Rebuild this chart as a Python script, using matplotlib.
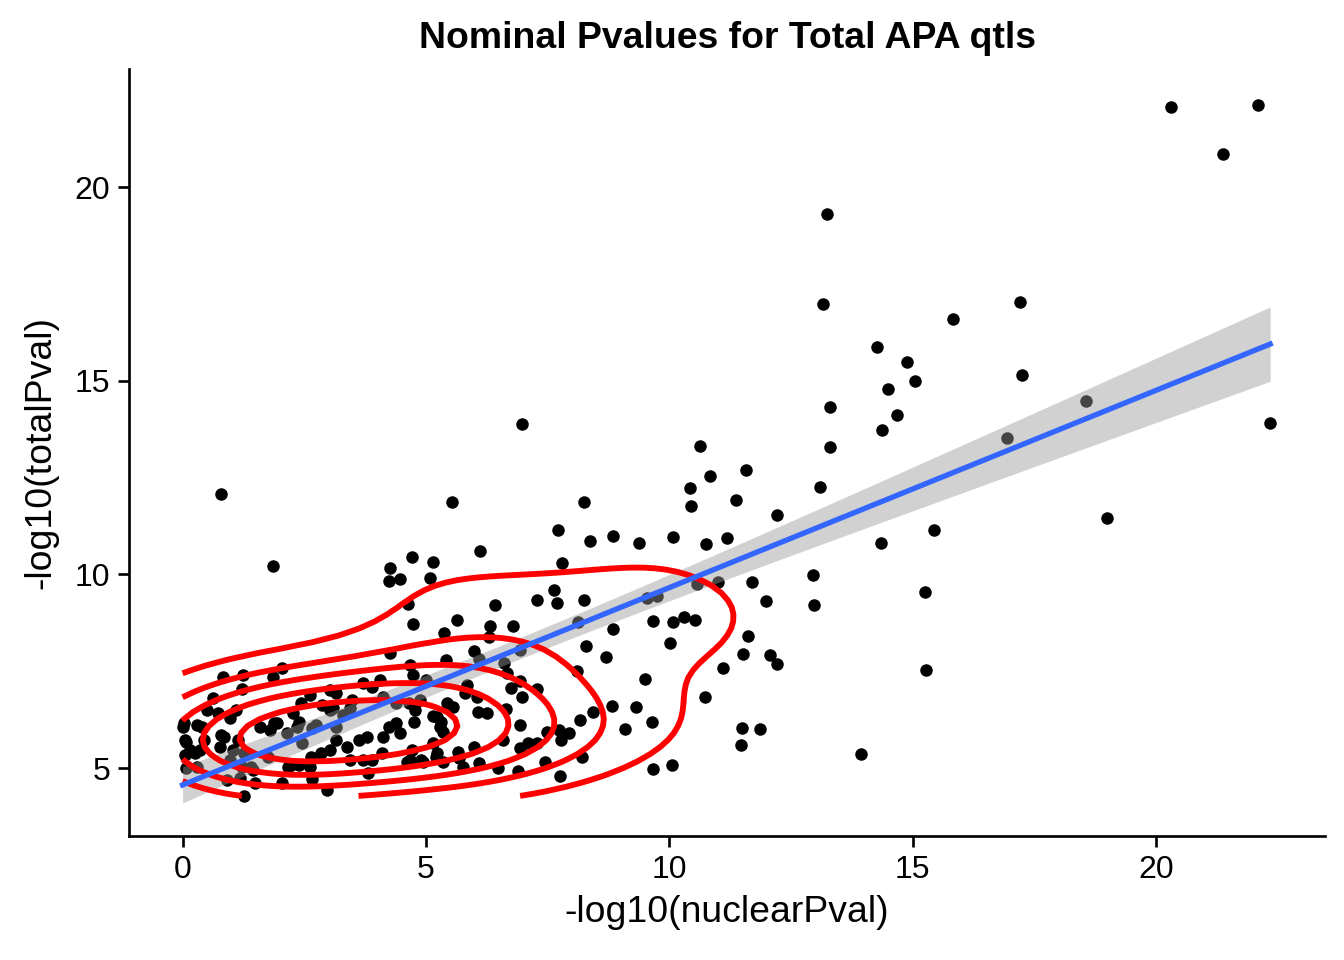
import numpy as np
import matplotlib
matplotlib.use("Agg")
import matplotlib.pyplot as plt

plt.rcParams['font.family'] = ['Liberation Sans', 'DejaVu Sans']

# -log10 p-values (nuclear vs total)
nuclear = [
    20.31, 22.09, 21.38, 22.34, 13.24, 13.16, 17.21, 15.83, 14.27, 14.89,
    15.05, 14.50, 13.29, 14.68, 14.37, 13.29, 17.25, 18.56, 16.94, 13.10,
    12.22, 14.35, 15.44, 18.99, 12.94, 12.96, 15.24, 15.28, 13.94, 11.99,
    11.70, 10.99, 11.62, 11.52, 12.07, 12.22, 11.11, 10.74, 11.50, 11.87,
    11.48, 11.36, 11.19, 10.76, 10.62, 10.84, 11.58, 10.43, 10.45, 6.98,
    10.57, 10.08, 9.38, 8.85, 8.36, 7.72, 8.25, 5.54, 0.78, 1.85,
    6.10, 4.72, 5.15, 4.27, 4.23, 4.46, 5.09, 7.80, 7.62, 7.70,
    8.25, 7.29, 6.41, 4.64, 9.53, 9.75, 8.13, 8.85, 9.67, 10.08,
    10.29, 10.53, 5.63, 4.74, 6.32, 6.78, 6.30, 5.38, 10.02, 8.28,
    8.69, 5.98, 6.08, 6.61, 6.94, 5.42, 4.68, 4.74, 4.99, 6.67,
    8.11, 9.49, 5.85, 5.81, 6.04, 6.74, 6.94, 7.29, 6.98, 5.44,
    5.56, 4.78, 5.15, 5.30, 5.34, 6.26, 6.06, 6.65, 8.44, 8.17,
    8.83, 9.32, 9.65, 9.08, 6.94, 7.10, 7.27, 7.49, 7.74, 7.93,
    7.78, 6.59, 5.98, 5.15, 5.65, 5.20, 5.67, 4.72, 4.89, 4.68,
    5.77, 6.08, 6.47, 6.90, 7.45, 8.21, 7.76, 9.67, 10.06, 6.94,
    4.27, 0.84, 1.25, 1.23, 1.85, 2.05, 0.62, 0.51, 1.09, 0.72,
    0.97, 0.00, 0.29, 0.39, 0.08, 0.04, 0.25, 0.35, 0.08, 0.29,
    0.76, 0.86, 1.13, 1.03, 1.27, 0.97, 1.23, 1.44, 0.92, 1.17,
    1.48, 1.27, 2.05, 2.16, 2.40, 2.61, 2.65, 2.96, 2.46, 2.85,
    3.02, 3.16, 3.37, 3.63, 3.78, 3.43, 3.70, 3.90, 4.09, 4.11,
    4.25, 4.39, 4.46, 4.76, 5.22, 5.28, 5.22, 4.93, 4.60, 5.34,
    4.87, 4.66, 4.39, 4.11, 3.90, 3.70, 4.05, 3.47, 3.16, 3.02,
    2.87, 2.61, 2.44, 2.75, 2.40, 2.26, 1.93, 1.79, 2.14, 3.29,
    3.02, 3.43, 2.65, 3.16, 0.02, 0.06, 0.16, 0.43, 0.78, 1.60,
    1.87, 2.36, 3.08, 3.80, 1.75, 1.40, 2.22, 2.63,
]
total = [
    22.08, 22.13, 20.87, 13.91, 19.32, 16.99, 17.04, 16.60, 15.88, 15.49,
    15.00, 14.79, 14.33, 14.12, 13.73, 13.29, 15.16, 14.48, 13.53, 12.26,
    11.54, 10.81, 11.15, 11.46, 9.99, 9.21, 9.55, 7.53, 5.36, 9.32,
    9.81, 9.81, 8.41, 7.95, 7.92, 7.69, 7.58, 6.83, 6.03, 6.01,
    5.59, 11.93, 10.94, 10.79, 13.32, 12.55, 12.70, 12.24, 11.77, 13.89,
    9.75, 10.97, 10.81, 11.00, 10.87, 11.15, 11.87, 11.87, 12.08, 10.22,
    10.61, 10.45, 10.32, 10.17, 9.83, 9.88, 9.91, 10.30, 9.60, 9.26,
    9.34, 9.34, 9.21, 9.24, 9.39, 9.44, 8.77, 8.59, 8.80, 8.77,
    8.90, 8.82, 8.82, 8.72, 8.67, 8.67, 8.39, 8.49, 8.23, 8.15,
    7.87, 8.02, 7.82, 7.71, 8.05, 7.79, 7.66, 7.40, 7.27, 7.45,
    7.51, 7.30, 7.14, 6.94, 6.83, 7.07, 7.25, 7.04, 6.83, 6.68,
    6.58, 6.50, 6.34, 6.19, 5.93, 6.42, 6.45, 6.52, 6.45, 6.24,
    6.60, 6.58, 6.19, 6.01, 6.11, 5.65, 5.65, 5.93, 5.98, 5.90,
    5.72, 5.72, 5.54, 5.65, 5.41, 5.28, 5.26, 5.47, 5.21, 5.21,
    5.03, 5.13, 5.00, 4.92, 5.16, 5.28, 4.79, 4.97, 5.08, 5.52,
    7.97, 7.35, 7.40, 7.04, 7.35, 7.58, 6.81, 6.50, 6.50, 6.42,
    6.29, 6.06, 6.11, 6.06, 5.67, 5.34, 5.39, 5.47, 5.00, 5.03,
    5.54, 5.80, 5.72, 5.47, 5.39, 5.21, 5.03, 4.95, 4.69, 4.74,
    4.61, 4.28, 4.61, 5.03, 5.08, 5.03, 4.72, 4.43, 5.65, 5.39,
    5.47, 5.72, 5.54, 5.72, 5.80, 5.21, 5.21, 5.21, 5.39, 5.80,
    6.06, 6.16, 5.90, 6.19, 6.32, 6.06, 5.39, 5.16, 5.16, 5.16,
    6.76, 6.68, 6.68, 6.83, 7.09, 7.20, 7.27, 6.76, 6.94, 7.02,
    6.63, 6.89, 6.68, 6.11, 6.19, 6.42, 6.16, 5.98, 5.90, 6.37,
    6.50, 6.55, 6.03, 6.06, 6.16, 5.72, 5.47, 5.72, 5.85, 6.06,
    6.16, 6.06, 6.55, 4.87, 5.28, 5.03, 5.08, 5.28,
]

x = np.array(nuclear)
y = np.array(total)
n = len(x)

# linear fit with 95% confidence band (like geom_smooth(method="lm"))
b1, b0 = np.polyfit(x, y, 1)
resid = y - (b0 + b1 * x)
s = np.sqrt(np.sum(resid ** 2) / (n - 2))
xs = np.linspace(x.min(), x.max(), 80)
se = s * np.sqrt(1.0 / n + (xs - x.mean()) ** 2 / np.sum((x - x.mean()) ** 2))
tcrit = 1.97
fit = b0 + b1 * xs

# 2d density as in MASS::kde2d with bandwidth.nrd
def bw_nrd(v):
    q75, q25 = np.percentile(v, [75, 25])
    return 1.06 * min(np.std(v, ddof=1), (q75 - q25) / 1.34) * len(v) ** (-0.2)

hx, hy = bw_nrd(x), bw_nrd(y)
gx = np.linspace(x.min(), x.max(), 100)
gy = np.linspace(y.min(), y.max(), 100)
kx = np.exp(-0.5 * ((gx[:, None] - x[None, :]) / hx) ** 2) / (np.sqrt(2 * np.pi) * hx)
ky = np.exp(-0.5 * ((gy[:, None] - y[None, :]) / hy) ** 2) / (np.sqrt(2 * np.pi) * hy)
z = (ky @ kx.T) / n
levels = z.max() * np.array([0.23, 0.40, 0.55, 0.70, 0.85])

fig = plt.figure(figsize=(7, 5), dpi=192)
ax = fig.add_axes([0.096, 0.129, 0.890, 0.799])

ax.fill_between(xs, fit - tcrit * se, fit + tcrit * se, color='#999999', alpha=0.45, lw=0, zorder=2)
ax.scatter(x, y, s=22, color='black', lw=0, zorder=1)
ax.contour(gx, gy, z, levels=levels, colors='#FF0000', linewidths=2.2, zorder=3)
ax.plot(xs, fit, color='#3366FF', lw=2.0, zorder=4)

ax.set_xlim(-1.1, 23.47)
ax.set_ylim(3.24, 23.05)
ax.set_xticks([0, 5, 10, 15, 20])
ax.set_yticks([5, 10, 15, 20])

for side in ['top', 'right']:
    ax.spines[side].set_visible(False)
for side in ['left', 'bottom']:
    ax.spines[side].set_linewidth(1.0)
ax.tick_params(axis='both', labelsize=12, length=4, width=1.0, colors='black', pad=3)

ax.set_xlabel('-log10(nuclearPval)', fontsize=14, labelpad=4)
ax.set_ylabel('-log10(totalPval)', fontsize=14, labelpad=6)
ax.set_title('Nominal Pvalues for Total APA qtls', fontsize=14, fontweight='bold', pad=8)

fig.savefig('out.png', dpi=192)
